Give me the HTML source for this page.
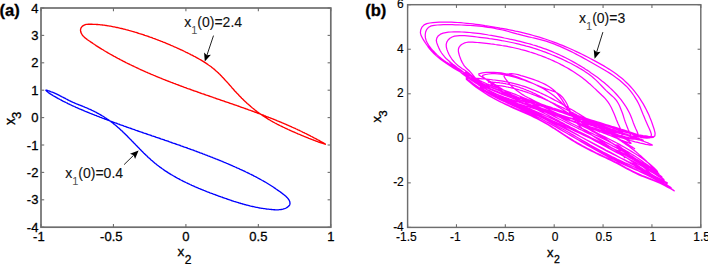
<!DOCTYPE html>
<html><head><meta charset="utf-8"><style>
html,body{margin:0;padding:0;background:#fff;}
svg{display:block;}
text{font-family:"Liberation Sans", sans-serif;fill:#000;stroke:#000;stroke-width:0.3px;}
</style></head><body>
<svg width="708" height="264" viewBox="0 0 708 264">
<rect width="708" height="264" fill="#fff"/>
<rect x="41.0" y="8.0" width="289.80" height="219.20" fill="none" stroke="#6e6e6e" stroke-width="1.7"/>
<line x1="41.00" y1="227.2" x2="41.00" y2="224.0" stroke="#6e6e6e" stroke-width="1.1"/>
<line x1="41.00" y1="8.0" x2="41.00" y2="11.2" stroke="#6e6e6e" stroke-width="1.1"/>
<line x1="113.45" y1="227.2" x2="113.45" y2="224.0" stroke="#6e6e6e" stroke-width="1.1"/>
<line x1="113.45" y1="8.0" x2="113.45" y2="11.2" stroke="#6e6e6e" stroke-width="1.1"/>
<line x1="185.90" y1="227.2" x2="185.90" y2="224.0" stroke="#6e6e6e" stroke-width="1.1"/>
<line x1="185.90" y1="8.0" x2="185.90" y2="11.2" stroke="#6e6e6e" stroke-width="1.1"/>
<line x1="258.35" y1="227.2" x2="258.35" y2="224.0" stroke="#6e6e6e" stroke-width="1.1"/>
<line x1="258.35" y1="8.0" x2="258.35" y2="11.2" stroke="#6e6e6e" stroke-width="1.1"/>
<line x1="330.80" y1="227.2" x2="330.80" y2="224.0" stroke="#6e6e6e" stroke-width="1.1"/>
<line x1="330.80" y1="8.0" x2="330.80" y2="11.2" stroke="#6e6e6e" stroke-width="1.1"/>
<line x1="41.0" y1="227.20" x2="44.2" y2="227.20" stroke="#6e6e6e" stroke-width="1.1"/>
<line x1="330.8" y1="227.20" x2="327.6" y2="227.20" stroke="#6e6e6e" stroke-width="1.1"/>
<line x1="41.0" y1="199.80" x2="44.2" y2="199.80" stroke="#6e6e6e" stroke-width="1.1"/>
<line x1="330.8" y1="199.80" x2="327.6" y2="199.80" stroke="#6e6e6e" stroke-width="1.1"/>
<line x1="41.0" y1="172.40" x2="44.2" y2="172.40" stroke="#6e6e6e" stroke-width="1.1"/>
<line x1="330.8" y1="172.40" x2="327.6" y2="172.40" stroke="#6e6e6e" stroke-width="1.1"/>
<line x1="41.0" y1="145.00" x2="44.2" y2="145.00" stroke="#6e6e6e" stroke-width="1.1"/>
<line x1="330.8" y1="145.00" x2="327.6" y2="145.00" stroke="#6e6e6e" stroke-width="1.1"/>
<line x1="41.0" y1="117.60" x2="44.2" y2="117.60" stroke="#6e6e6e" stroke-width="1.1"/>
<line x1="330.8" y1="117.60" x2="327.6" y2="117.60" stroke="#6e6e6e" stroke-width="1.1"/>
<line x1="41.0" y1="90.20" x2="44.2" y2="90.20" stroke="#6e6e6e" stroke-width="1.1"/>
<line x1="330.8" y1="90.20" x2="327.6" y2="90.20" stroke="#6e6e6e" stroke-width="1.1"/>
<line x1="41.0" y1="62.80" x2="44.2" y2="62.80" stroke="#6e6e6e" stroke-width="1.1"/>
<line x1="330.8" y1="62.80" x2="327.6" y2="62.80" stroke="#6e6e6e" stroke-width="1.1"/>
<line x1="41.0" y1="35.40" x2="44.2" y2="35.40" stroke="#6e6e6e" stroke-width="1.1"/>
<line x1="330.8" y1="35.40" x2="327.6" y2="35.40" stroke="#6e6e6e" stroke-width="1.1"/>
<line x1="41.0" y1="8.00" x2="44.2" y2="8.00" stroke="#6e6e6e" stroke-width="1.1"/>
<line x1="330.8" y1="8.00" x2="327.6" y2="8.00" stroke="#6e6e6e" stroke-width="1.1"/>
<text x="33.06" y="240.80" font-size="13">-1</text>
<text x="100.09" y="240.80" font-size="13">-0.5</text>
<text x="182.29" y="240.80" font-size="13">0</text>
<text x="249.32" y="240.80" font-size="13">0.5</text>
<text x="327.19" y="240.80" font-size="13">1</text>
<text x="38.40" y="231.85" font-size="13" text-anchor="end">-4</text>
<text x="38.40" y="204.45" font-size="13" text-anchor="end">-3</text>
<text x="38.40" y="177.05" font-size="13" text-anchor="end">-2</text>
<text x="38.40" y="149.65" font-size="13" text-anchor="end">-1</text>
<text x="38.40" y="122.25" font-size="13" text-anchor="end">0</text>
<text x="38.40" y="94.85" font-size="13" text-anchor="end">1</text>
<text x="38.40" y="67.45" font-size="13" text-anchor="end">2</text>
<text x="38.40" y="40.05" font-size="13" text-anchor="end">3</text>
<text x="38.40" y="12.65" font-size="13" text-anchor="end">4</text>
<rect x="407.6" y="4.7" width="293.20" height="222.70" fill="none" stroke="#6e6e6e" stroke-width="1.45"/>
<line x1="407.60" y1="227.4" x2="407.60" y2="224.20000000000002" stroke="#6e6e6e" stroke-width="1.1"/>
<line x1="407.60" y1="4.7" x2="407.60" y2="7.9" stroke="#6e6e6e" stroke-width="1.1"/>
<line x1="456.47" y1="227.4" x2="456.47" y2="224.20000000000002" stroke="#6e6e6e" stroke-width="1.1"/>
<line x1="456.47" y1="4.7" x2="456.47" y2="7.9" stroke="#6e6e6e" stroke-width="1.1"/>
<line x1="505.33" y1="227.4" x2="505.33" y2="224.20000000000002" stroke="#6e6e6e" stroke-width="1.1"/>
<line x1="505.33" y1="4.7" x2="505.33" y2="7.9" stroke="#6e6e6e" stroke-width="1.1"/>
<line x1="554.20" y1="227.4" x2="554.20" y2="224.20000000000002" stroke="#6e6e6e" stroke-width="1.1"/>
<line x1="554.20" y1="4.7" x2="554.20" y2="7.9" stroke="#6e6e6e" stroke-width="1.1"/>
<line x1="603.07" y1="227.4" x2="603.07" y2="224.20000000000002" stroke="#6e6e6e" stroke-width="1.1"/>
<line x1="603.07" y1="4.7" x2="603.07" y2="7.9" stroke="#6e6e6e" stroke-width="1.1"/>
<line x1="651.93" y1="227.4" x2="651.93" y2="224.20000000000002" stroke="#6e6e6e" stroke-width="1.1"/>
<line x1="651.93" y1="4.7" x2="651.93" y2="7.9" stroke="#6e6e6e" stroke-width="1.1"/>
<line x1="700.80" y1="227.4" x2="700.80" y2="224.20000000000002" stroke="#6e6e6e" stroke-width="1.1"/>
<line x1="700.80" y1="4.7" x2="700.80" y2="7.9" stroke="#6e6e6e" stroke-width="1.1"/>
<line x1="407.6" y1="227.40" x2="410.8" y2="227.40" stroke="#6e6e6e" stroke-width="1.1"/>
<line x1="700.8" y1="227.40" x2="697.5999999999999" y2="227.40" stroke="#6e6e6e" stroke-width="1.1"/>
<line x1="407.6" y1="182.86" x2="410.8" y2="182.86" stroke="#6e6e6e" stroke-width="1.1"/>
<line x1="700.8" y1="182.86" x2="697.5999999999999" y2="182.86" stroke="#6e6e6e" stroke-width="1.1"/>
<line x1="407.6" y1="138.32" x2="410.8" y2="138.32" stroke="#6e6e6e" stroke-width="1.1"/>
<line x1="700.8" y1="138.32" x2="697.5999999999999" y2="138.32" stroke="#6e6e6e" stroke-width="1.1"/>
<line x1="407.6" y1="93.78" x2="410.8" y2="93.78" stroke="#6e6e6e" stroke-width="1.1"/>
<line x1="700.8" y1="93.78" x2="697.5999999999999" y2="93.78" stroke="#6e6e6e" stroke-width="1.1"/>
<line x1="407.6" y1="49.24" x2="410.8" y2="49.24" stroke="#6e6e6e" stroke-width="1.1"/>
<line x1="700.8" y1="49.24" x2="697.5999999999999" y2="49.24" stroke="#6e6e6e" stroke-width="1.1"/>
<line x1="407.6" y1="4.70" x2="410.8" y2="4.70" stroke="#6e6e6e" stroke-width="1.1"/>
<line x1="700.8" y1="4.70" x2="697.5999999999999" y2="4.70" stroke="#6e6e6e" stroke-width="1.1"/>
<text x="396.06" y="241.10" font-size="12" style="stroke-width:0.15px">-1.5</text>
<text x="449.93" y="241.10" font-size="12" style="stroke-width:0.15px">-1</text>
<text x="493.80" y="241.10" font-size="12" style="stroke-width:0.15px">-0.5</text>
<text x="551.66" y="241.10" font-size="12" style="stroke-width:0.15px">0</text>
<text x="595.53" y="241.10" font-size="12" style="stroke-width:0.15px">0.5</text>
<text x="649.40" y="241.10" font-size="12" style="stroke-width:0.15px">1</text>
<text x="693.26" y="241.10" font-size="12" style="stroke-width:0.15px">1.5</text>
<text x="403.80" y="231.40" font-size="12" text-anchor="end" style="stroke-width:0.15px">-4</text>
<text x="403.80" y="186.26" font-size="12" text-anchor="end" style="stroke-width:0.15px">-2</text>
<text x="403.80" y="141.72" font-size="12" text-anchor="end" style="stroke-width:0.15px">0</text>
<text x="403.80" y="97.18" font-size="12" text-anchor="end" style="stroke-width:0.15px">2</text>
<text x="403.80" y="52.64" font-size="12" text-anchor="end" style="stroke-width:0.15px">4</text>
<text x="403.80" y="7.60" font-size="12" text-anchor="end" style="stroke-width:0.15px">6</text>
<text x="-0.5" y="15.7" font-size="16.6" font-weight="bold">(a)</text>
<text x="365.2" y="15.9" font-size="16.6" font-weight="bold">(b)</text>
<text x="177.6" y="256.2" font-size="13.5">x<tspan font-size="12" dx="0.3" dy="7.3">2</tspan></text>
<text x="547.0" y="256.6" font-size="13">x<tspan font-size="10.5" dx="0.5" dy="6.2">2</tspan></text>
<text transform="translate(14.8,125.0) rotate(-90)" font-size="14">x<tspan font-size="12.5" dx="-0.8" dy="6.5">3</tspan></text>
<text transform="translate(381.0,122.4) rotate(-90)" font-size="13">x<tspan font-size="11.5" dx="-0.9" dy="6.3">3</tspan></text>
<path d="M80.6,29.4 80.8,28.6 81.1,27.8 81.6,27.1 82.2,26.4 82.9,25.9 83.6,25.4 84.5,25.0 85.3,24.7 86.2,24.4 87.2,24.3 88.1,24.2 89.1,24.2 90.0,24.2 91.0,24.2 92.0,24.2 92.9,24.3 93.9,24.3 94.8,24.4 95.8,24.4 96.7,24.5 97.7,24.5 98.6,24.6 99.6,24.7 100.5,24.8 101.4,24.9 102.4,25.0 103.3,25.1 104.2,25.2 105.1,25.4 106.1,25.5 107.0,25.6 107.9,25.8 108.8,25.9 109.7,26.1 110.6,26.2 111.5,26.4 112.5,26.6 113.4,26.8 114.3,26.9 115.2,27.1 116.1,27.3 117.0,27.5 117.9,27.7 118.8,27.9 119.7,28.1 120.6,28.3 121.5,28.5 122.4,28.7 123.3,29.0 124.2,29.2 125.1,29.4 126.0,29.7 126.9,29.9 127.9,30.1 128.8,30.4 129.7,30.6 130.6,30.9 131.5,31.1 132.4,31.4 133.2,31.6 134.1,31.9 135.0,32.2 135.9,32.4 136.8,32.7 137.7,33.0 138.6,33.3 139.5,33.6 140.4,33.8 141.3,34.1 142.2,34.4 143.1,34.7 144.0,35.0 144.8,35.3 145.7,35.6 146.6,35.9 147.5,36.2 148.4,36.5 149.3,36.8 150.1,37.1 151.0,37.4 151.9,37.7 152.8,38.1 153.6,38.4 154.5,38.7 155.4,39.0 156.3,39.4 157.1,39.7 158.0,40.0 158.9,40.4 159.7,40.7 160.6,41.0 161.5,41.4 162.4,41.7 163.2,42.1 164.1,42.4 164.9,42.7 165.8,43.1 166.7,43.5 167.5,43.8 168.4,44.2 169.2,44.5 170.1,44.9 171.0,45.3 171.8,45.6 172.7,46.0 173.5,46.4 174.4,46.8 175.2,47.1 176.1,47.5 176.9,47.9 177.8,48.3 178.6,48.7 179.5,49.1 180.3,49.5 181.2,49.8 182.0,50.2 182.9,50.6 183.7,51.0 184.5,51.5 185.4,51.9 186.2,52.3 187.1,52.7 187.9,53.1 188.7,53.5 189.6,53.9 190.4,54.4 191.2,54.8 192.1,55.2 192.9,55.6 193.7,56.1 194.6,56.5 195.4,56.9 196.2,57.4 197.0,57.8 197.9,58.3 198.7,58.8 199.5,59.2 200.3,59.7 201.1,60.1 201.9,60.6 202.7,61.1 203.5,61.6 204.3,62.1 205.1,62.6 205.9,63.1 206.6,63.6 207.4,64.1 208.2,64.7 208.9,65.2 209.7,65.7 210.4,66.3 211.2,66.8 211.9,67.4 212.6,68.0 213.3,68.6 214.1,69.1 214.8,69.7 215.5,70.4 216.1,71.0 216.8,71.6 217.5,72.2 218.2,72.8 218.8,73.5 219.5,74.1 220.2,74.8 220.8,75.4 221.5,76.1 222.1,76.8 222.7,77.4 223.4,78.1 224.0,78.8 224.6,79.5 225.3,80.2 225.9,80.9 226.5,81.6 227.2,82.2 227.8,82.9 228.4,83.6 229.0,84.3 229.6,85.0 230.3,85.7 230.9,86.4 231.5,87.1 232.1,87.9 232.8,88.6 233.4,89.3 234.0,90.0 234.6,90.7 235.3,91.4 235.9,92.0 236.5,92.7 237.2,93.4 237.8,94.1 238.5,94.8 239.1,95.5 239.8,96.2 240.4,96.8 241.1,97.5 241.7,98.2 242.4,98.8 243.1,99.5 243.8,100.2 244.4,100.8 245.1,101.4 245.8,102.1 246.5,102.7 247.2,103.4 247.9,104.0 248.6,104.6 249.3,105.2 250.0,105.8 250.7,106.5 251.4,107.1 252.1,107.7 252.9,108.3 253.6,108.8 254.3,109.4 255.0,110.0 255.8,110.6 256.5,111.1 257.2,111.7 258.0,112.2 258.7,112.8 259.5,113.3 260.2,113.9 261.0,114.4 261.7,114.9 262.5,115.4 263.2,116.0 264.0,116.5 264.8,117.0 265.5,117.5 266.3,117.9 267.1,118.4 267.8,118.9 268.6,119.4 269.4,119.8 270.2,120.3 271.0,120.8 271.8,121.2 272.6,121.7 273.3,122.1 274.1,122.5 274.9,123.0 275.8,123.4 276.6,123.8 277.4,124.3 278.2,124.7 279.0,125.1 279.8,125.5 280.7,125.9 281.5,126.3 282.3,126.7 283.1,127.1 284.0,127.5 284.8,127.9 285.7,128.3 286.5,128.7 287.4,129.1 288.2,129.5 289.1,129.9 290.0,130.3 290.8,130.7 291.7,131.1 292.6,131.5 293.4,131.8 294.3,132.2 295.2,132.6 296.1,133.0 297.0,133.4 297.9,133.8 298.8,134.1 299.7,134.5 300.6,134.9 301.5,135.3 302.4,135.7 303.3,136.0 304.2,136.4 305.2,136.8 306.1,137.2 307.0,137.5 307.9,137.9 308.8,138.3 309.7,138.6 310.6,139.0 311.5,139.3 312.4,139.7 313.3,140.0 314.2,140.3 315.1,140.7 315.9,141.0 316.8,141.3 317.7,141.7 318.5,142.0 319.4,142.3 320.2,142.6 321.0,142.9 321.9,143.2 322.7,143.4 323.5,143.7 324.2,143.9 324.8,144.1 325.2,144.2 325.4,144.2 325.3,144.1 325.0,143.8 324.5,143.5 323.8,143.1 323.1,142.7 322.3,142.2 321.5,141.8 320.6,141.3 319.8,140.9 319.0,140.4 318.2,140.0 317.4,139.6 316.5,139.1 315.7,138.7 314.9,138.2 314.0,137.8 313.2,137.4 312.4,136.9 311.5,136.5 310.7,136.1 309.9,135.6 309.0,135.2 308.2,134.8 307.4,134.4 306.5,133.9 305.7,133.5 304.8,133.1 304.0,132.7 303.1,132.3 302.3,131.9 301.4,131.5 300.6,131.0 299.7,130.6 298.9,130.2 298.0,129.8 297.2,129.4 296.3,129.0 295.5,128.6 294.6,128.2 293.7,127.9 292.9,127.5 292.0,127.1 291.2,126.7 290.3,126.3 289.4,125.9 288.6,125.5 287.7,125.2 286.9,124.8 286.0,124.4 285.1,124.0 284.3,123.7 283.4,123.3 282.5,122.9 281.7,122.6 280.8,122.2 279.9,121.8 279.1,121.5 278.2,121.1 277.3,120.8 276.5,120.4 275.6,120.0 274.7,119.7 273.9,119.3 273.0,119.0 272.1,118.6 271.3,118.3 270.4,118.0 269.5,117.6 268.7,117.3 267.8,116.9 266.9,116.6 266.1,116.3 265.2,115.9 264.3,115.6 263.4,115.2 262.6,114.9 261.7,114.6 260.8,114.3 260.0,113.9 259.1,113.6 258.2,113.3 257.3,113.0 256.5,112.6 255.6,112.3 254.7,112.0 253.9,111.7 253.0,111.3 252.1,111.0 251.2,110.7 250.4,110.4 249.5,110.1 248.6,109.8 247.7,109.4 246.9,109.1 246.0,108.8 245.1,108.5 244.2,108.2 243.4,107.9 242.5,107.6 241.6,107.3 240.7,107.0 239.9,106.7 239.0,106.3 238.1,106.0 237.2,105.7 236.4,105.4 235.5,105.1 234.6,104.8 233.7,104.5 232.8,104.2 232.0,103.9 231.1,103.6 230.2,103.3 229.3,103.0 228.5,102.7 227.6,102.4 226.7,102.1 225.8,101.8 224.9,101.5 224.1,101.2 223.2,100.9 222.3,100.6 221.4,100.3 220.5,100.0 219.7,99.7 218.8,99.4 217.9,99.1 217.0,98.8 216.1,98.5 215.3,98.2 214.4,97.9 213.5,97.6 212.6,97.2 211.7,96.9 210.9,96.6 210.0,96.3 209.1,96.0 208.2,95.7 207.3,95.4 206.4,95.1 205.6,94.8 204.7,94.5 203.8,94.2 202.9,93.9 202.0,93.6 201.2,93.3 200.3,93.0 199.4,92.7 198.5,92.3 197.6,92.0 196.8,91.7 195.9,91.4 195.0,91.1 194.1,90.8 193.2,90.5 192.3,90.2 191.5,89.8 190.6,89.5 189.7,89.2 188.8,88.9 187.9,88.6 187.1,88.3 186.2,87.9 185.3,87.6 184.4,87.3 183.6,87.0 182.7,86.6 181.8,86.3 180.9,86.0 180.0,85.7 179.2,85.3 178.3,85.0 177.4,84.7 176.5,84.4 175.7,84.0 174.8,83.7 173.9,83.4 173.0,83.0 172.2,82.7 171.3,82.4 170.4,82.0 169.5,81.7 168.7,81.3 167.8,81.0 166.9,80.7 166.0,80.3 165.2,80.0 164.3,79.6 163.4,79.3 162.6,78.9 161.7,78.6 160.8,78.2 160.0,77.9 159.1,77.5 158.2,77.2 157.4,76.8 156.5,76.5 155.6,76.1 154.8,75.7 153.9,75.4 153.1,75.0 152.2,74.6 151.3,74.3 150.5,73.9 149.6,73.5 148.8,73.2 147.9,72.8 147.1,72.4 146.2,72.1 145.3,71.7 144.5,71.3 143.6,70.9 142.8,70.5 141.9,70.2 141.1,69.8 140.2,69.4 139.4,69.0 138.5,68.6 137.7,68.2 136.9,67.8 136.0,67.4 135.2,67.0 134.3,66.6 133.5,66.2 132.7,65.8 131.8,65.4 131.0,65.0 130.1,64.6 129.3,64.2 128.5,63.8 127.6,63.4 126.8,63.0 126.0,62.6 125.1,62.1 124.3,61.7 123.5,61.3 122.7,60.9 121.8,60.4 121.0,60.0 120.2,59.6 119.4,59.1 118.6,58.7 117.7,58.3 116.9,57.8 116.1,57.4 115.3,56.9 114.5,56.5 113.7,56.1 112.9,55.6 112.1,55.2 111.2,54.7 110.4,54.2 109.6,53.8 108.8,53.3 108.0,52.9 107.2,52.4 106.4,51.9 105.6,51.5 104.8,51.0 104.0,50.5 103.3,50.0 102.5,49.5 101.7,49.1 100.9,48.6 100.1,48.1 99.3,47.6 98.5,47.1 97.7,46.6 96.9,46.1 96.1,45.6 95.3,45.0 94.5,44.5 93.8,44.0 93.0,43.5 92.2,42.9 91.4,42.4 90.6,41.9 89.8,41.3 89.0,40.8 88.2,40.2 87.4,39.7 86.7,39.1 85.9,38.5 85.1,37.9 84.4,37.3 83.8,36.6 83.1,36.0 82.5,35.3 82.0,34.5 81.5,33.7 81.2,32.9 80.8,32.1 80.6,31.2 80.5,30.3 80.6,29.4Z" fill="none" stroke="#ff0000" stroke-width="1.35" stroke-linejoin="round"/>
<path d="M45.9,90.3 45.9,90.1 46.2,90.1 46.6,90.1 47.3,90.3 48.1,90.6 49.0,90.9 50.1,91.3 51.2,91.8 52.3,92.2 53.5,92.7 54.6,93.2 55.7,93.7 56.8,94.2 57.8,94.7 58.8,95.2 59.8,95.7 60.7,96.1 61.5,96.6 62.4,97.0 63.2,97.4 64.0,97.8 64.8,98.2 65.6,98.6 66.3,99.0 67.1,99.4 67.8,99.8 68.5,100.2 69.3,100.6 70.0,100.9 70.8,101.3 71.5,101.7 72.3,102.0 73.1,102.4 73.9,102.7 74.7,103.1 75.6,103.4 76.4,103.8 77.3,104.1 78.1,104.5 79.0,104.8 79.9,105.1 80.8,105.5 81.6,105.8 82.5,106.2 83.4,106.6 84.3,106.9 85.2,107.3 86.0,107.6 86.9,108.0 87.8,108.4 88.6,108.8 89.5,109.2 90.4,109.5 91.2,109.9 92.0,110.3 92.9,110.7 93.7,111.2 94.6,111.6 95.4,112.0 96.2,112.4 97.0,112.9 97.8,113.3 98.6,113.7 99.4,114.2 100.2,114.6 101.0,115.1 101.8,115.6 102.6,116.0 103.4,116.5 104.2,117.0 104.9,117.5 105.7,118.0 106.5,118.5 107.2,119.0 108.0,119.5 108.7,120.0 109.5,120.6 110.2,121.1 110.9,121.7 111.7,122.2 112.4,122.8 113.1,123.3 113.8,123.9 114.5,124.5 115.2,125.0 115.9,125.6 116.6,126.2 117.3,126.8 118.0,127.4 118.7,128.0 119.4,128.6 120.1,129.3 120.8,129.9 121.4,130.5 122.1,131.1 122.8,131.8 123.4,132.4 124.1,133.0 124.8,133.7 125.4,134.3 126.1,135.0 126.7,135.6 127.4,136.3 128.0,136.9 128.7,137.6 129.3,138.3 130.0,138.9 130.6,139.6 131.3,140.2 131.9,140.9 132.6,141.6 133.2,142.2 133.9,142.9 134.5,143.6 135.2,144.2 135.8,144.9 136.5,145.6 137.1,146.2 137.8,146.9 138.4,147.6 139.1,148.2 139.7,148.9 140.4,149.6 141.0,150.2 141.7,150.9 142.3,151.6 143.0,152.2 143.6,152.9 144.3,153.5 145.0,154.2 145.6,154.8 146.3,155.5 147.0,156.1 147.6,156.7 148.3,157.4 149.0,158.0 149.7,158.6 150.4,159.2 151.1,159.9 151.8,160.5 152.5,161.1 153.2,161.7 153.9,162.3 154.6,162.9 155.3,163.5 156.0,164.0 156.7,164.6 157.5,165.2 158.2,165.7 158.9,166.3 159.7,166.9 160.4,167.4 161.2,167.9 161.9,168.5 162.7,169.0 163.4,169.5 164.2,170.1 164.9,170.6 165.7,171.1 166.5,171.6 167.3,172.1 168.0,172.6 168.8,173.1 169.6,173.6 170.4,174.1 171.2,174.6 172.0,175.0 172.8,175.5 173.6,176.0 174.4,176.4 175.2,176.9 176.0,177.4 176.8,177.8 177.6,178.3 178.5,178.7 179.3,179.1 180.1,179.6 180.9,180.0 181.8,180.4 182.6,180.9 183.4,181.3 184.2,181.7 185.1,182.1 185.9,182.5 186.8,182.9 187.6,183.3 188.4,183.7 189.3,184.1 190.1,184.5 191.0,184.9 191.8,185.3 192.7,185.7 193.5,186.0 194.4,186.4 195.2,186.8 196.1,187.2 196.9,187.5 197.8,187.9 198.7,188.3 199.5,188.6 200.4,189.0 201.2,189.3 202.1,189.7 203.0,190.0 203.8,190.4 204.7,190.7 205.6,191.1 206.4,191.4 207.3,191.8 208.2,192.1 209.0,192.4 209.9,192.8 210.8,193.1 211.6,193.4 212.5,193.7 213.3,194.1 214.2,194.4 215.1,194.7 215.9,195.0 216.8,195.3 217.7,195.7 218.5,196.0 219.4,196.3 220.3,196.6 221.1,196.9 222.0,197.2 222.8,197.5 223.7,197.8 224.6,198.1 225.4,198.4 226.3,198.7 227.1,199.0 228.0,199.3 228.9,199.6 229.7,199.9 230.6,200.2 231.4,200.5 232.3,200.8 233.2,201.1 234.0,201.4 234.9,201.6 235.8,201.9 236.6,202.2 237.5,202.4 238.4,202.7 239.2,203.0 240.1,203.2 241.0,203.5 241.9,203.7 242.7,204.0 243.6,204.2 244.5,204.5 245.4,204.7 246.3,205.0 247.2,205.2 248.1,205.4 249.0,205.6 249.9,205.9 250.8,206.1 251.7,206.3 252.6,206.5 253.5,206.7 254.4,206.9 255.3,207.1 256.2,207.3 257.2,207.4 258.1,207.6 259.0,207.8 260.0,208.0 260.9,208.1 261.8,208.3 262.8,208.4 263.7,208.6 264.7,208.7 265.7,208.8 266.6,209.0 267.6,209.1 268.6,209.2 269.6,209.3 270.5,209.4 271.5,209.5 272.5,209.6 273.5,209.7 274.5,209.7 275.5,209.8 276.4,209.8 277.4,209.8 278.4,209.8 279.3,209.7 280.2,209.6 281.1,209.5 282.0,209.4 282.9,209.2 283.7,208.9 284.5,208.7 285.3,208.4 286.1,208.0 286.8,207.6 287.5,207.2 288.2,206.6 288.8,206.1 289.3,205.5 289.7,204.8 289.9,204.1 290.0,203.3 289.9,202.6 289.8,201.8 289.5,201.0 289.1,200.2 288.7,199.5 288.2,198.8 287.6,198.1 287.0,197.4 286.3,196.7 285.6,196.1 284.8,195.4 284.0,194.8 283.3,194.2 282.5,193.6 281.7,193.0 280.9,192.4 280.1,191.8 279.3,191.2 278.4,190.6 277.6,190.1 276.8,189.5 276.0,189.0 275.2,188.4 274.4,187.9 273.6,187.3 272.8,186.8 272.0,186.3 271.2,185.8 270.4,185.3 269.6,184.8 268.8,184.3 268.0,183.8 267.2,183.3 266.4,182.8 265.6,182.3 264.8,181.8 264.0,181.4 263.2,180.9 262.4,180.5 261.5,180.0 260.7,179.5 259.9,179.1 259.1,178.7 258.3,178.2 257.5,177.8 256.7,177.3 255.9,176.9 255.1,176.5 254.2,176.1 253.4,175.6 252.6,175.2 251.8,174.8 251.0,174.4 250.1,174.0 249.3,173.6 248.5,173.2 247.7,172.8 246.9,172.4 246.0,172.0 245.2,171.6 244.4,171.2 243.6,170.8 242.7,170.4 241.9,170.0 241.1,169.7 240.2,169.3 239.4,168.9 238.6,168.5 237.7,168.1 236.9,167.8 236.1,167.4 235.2,167.0 234.4,166.6 233.6,166.3 232.7,165.9 231.9,165.5 231.0,165.2 230.2,164.8 229.3,164.4 228.5,164.1 227.7,163.7 226.8,163.4 226.0,163.0 225.1,162.6 224.3,162.3 223.4,161.9 222.6,161.6 221.7,161.2 220.9,160.9 220.0,160.5 219.2,160.2 218.3,159.8 217.5,159.5 216.6,159.1 215.7,158.8 214.9,158.5 214.0,158.1 213.2,157.8 212.3,157.4 211.5,157.1 210.6,156.8 209.7,156.4 208.9,156.1 208.0,155.8 207.1,155.4 206.3,155.1 205.4,154.8 204.6,154.4 203.7,154.1 202.8,153.8 202.0,153.4 201.1,153.1 200.2,152.8 199.4,152.5 198.5,152.2 197.6,151.8 196.7,151.5 195.9,151.2 195.0,150.9 194.1,150.5 193.3,150.2 192.4,149.9 191.5,149.6 190.7,149.3 189.8,149.0 188.9,148.6 188.0,148.3 187.2,148.0 186.3,147.7 185.4,147.4 184.5,147.1 183.7,146.8 182.8,146.5 181.9,146.1 181.0,145.8 180.2,145.5 179.3,145.2 178.4,144.9 177.5,144.6 176.7,144.3 175.8,144.0 174.9,143.7 174.0,143.4 173.1,143.1 172.3,142.8 171.4,142.5 170.5,142.2 169.6,141.9 168.8,141.5 167.9,141.2 167.0,140.9 166.1,140.6 165.2,140.3 164.4,140.0 163.5,139.7 162.6,139.4 161.7,139.1 160.8,138.8 160.0,138.5 159.1,138.2 158.2,137.9 157.3,137.6 156.4,137.3 155.6,137.0 154.7,136.7 153.8,136.4 152.9,136.1 152.0,135.8 151.2,135.5 150.3,135.2 149.4,134.9 148.5,134.6 147.7,134.3 146.8,134.0 145.9,133.7 145.0,133.4 144.1,133.1 143.3,132.8 142.4,132.5 141.5,132.2 140.6,131.9 139.8,131.6 138.9,131.3 138.0,131.0 137.1,130.7 136.2,130.4 135.4,130.1 134.5,129.7 133.6,129.4 132.7,129.1 131.9,128.8 131.0,128.5 130.1,128.2 129.2,127.9 128.4,127.6 127.5,127.3 126.6,127.0 125.8,126.7 124.9,126.4 124.0,126.1 123.1,125.7 122.3,125.4 121.4,125.1 120.5,124.8 119.7,124.5 118.8,124.2 117.9,123.9 117.1,123.5 116.2,123.2 115.3,122.9 114.5,122.6 113.6,122.3 112.7,122.0 111.9,121.6 111.0,121.3 110.1,121.0 109.3,120.7 108.4,120.4 107.5,120.0 106.7,119.7 105.8,119.4 104.9,119.1 104.1,118.7 103.2,118.4 102.4,118.1 101.5,117.7 100.6,117.4 99.8,117.1 98.9,116.7 98.1,116.4 97.2,116.1 96.4,115.7 95.5,115.4 94.6,115.1 93.8,114.7 92.9,114.4 92.1,114.0 91.2,113.7 90.4,113.4 89.5,113.0 88.7,112.7 87.8,112.3 87.0,112.0 86.1,111.6 85.3,111.3 84.4,110.9 83.6,110.6 82.8,110.2 81.9,109.8 81.1,109.5 80.2,109.1 79.4,108.8 78.5,108.4 77.7,108.0 76.9,107.7 76.0,107.3 75.2,106.9 74.3,106.5 73.5,106.1 72.7,105.8 71.8,105.4 71.0,105.0 70.1,104.6 69.3,104.2 68.4,103.8 67.6,103.4 66.8,102.9 65.9,102.5 65.1,102.1 64.2,101.7 63.4,101.3 62.5,100.8 61.7,100.4 60.8,99.9 60.0,99.5 59.2,99.0 58.3,98.6 57.5,98.1 56.6,97.6 55.8,97.1 54.9,96.6 54.0,96.2 53.2,95.7 52.4,95.1 51.5,94.6 50.7,94.1 49.9,93.6 49.2,93.1 48.4,92.6 47.7,92.0 47.1,91.5 46.5,91.0 46.1,90.6 45.9,90.3Z" fill="none" stroke="#0000ff" stroke-width="1.35" stroke-linejoin="round"/>
<text x="184.2" y="27.0" font-size="14" style="fill:#111;stroke:#111;stroke-width:0.1px">x<tspan font-size="11" dy="6.8" style="fill:#555;stroke:none">1</tspan><tspan dy="-6.8">(0)=2.4</tspan></text>
<line x1="213.5" y1="35.6" x2="206.96" y2="55.15" stroke="#222" stroke-width="1"/>
<path d="M204.8,61.6 L204.08,52.40 L206.96,55.15 L210.91,54.68Z" fill="#000"/>
<text x="65.2" y="177.9" font-size="14" style="fill:#111;stroke:#111;stroke-width:0.1px">x<tspan font-size="11" dy="6.8" style="fill:#555;stroke:none">1</tspan><tspan dy="-6.8">(0)=0.4</tspan></text>
<line x1="124.1" y1="164.6" x2="133.74" y2="155.16" stroke="#222" stroke-width="1"/>
<path d="M138.6,150.4 L135.05,158.92 L133.74,155.16 L130.01,153.78Z" fill="#000"/>
<text x="579.0" y="23.4" font-size="14" style="fill:#111;stroke:#111;stroke-width:0.1px">x<tspan font-size="11" dy="6.8" style="fill:#555;stroke:none">1</tspan><tspan dy="-6.8">(0)=3</tspan></text>
<line x1="602.9" y1="32.1" x2="596.63" y2="52.21" stroke="#222" stroke-width="1"/>
<path d="M594.6,58.7 L593.70,49.51 L596.63,52.21 L600.57,51.66Z" fill="#000"/>
<path d="M420.4,32.9 420.7,29.9 422.0,27.1 424.1,24.9 426.8,23.6 429.8,23.0 432.9,22.6 436.0,22.3 439.1,22.1 442.2,22.0 445.3,22.0 448.4,22.1 451.4,22.2 454.5,22.3 457.6,22.5 460.7,22.7 463.7,23.0 466.8,23.3 469.8,23.6 472.9,23.9 475.9,24.3 479.0,24.7 482.0,25.1 485.0,25.6 488.1,26.0 491.1,26.5 494.1,27.0 497.2,27.5 500.2,28.1 503.2,28.6 506.3,29.2 509.3,29.8 512.3,30.4 515.4,31.1 518.4,31.7 521.4,32.4 524.4,33.1 527.4,33.9 530.4,34.7 533.3,35.5 536.3,36.3 539.3,37.2 542.2,38.1 545.1,39.0 548.0,40.0 550.9,41.0 553.8,42.1 556.7,43.2 559.5,44.3 562.4,45.4 565.2,46.6 568.0,47.8 570.8,49.0 573.6,50.3 576.4,51.6 579.2,52.9 582.0,54.3 584.7,55.6 587.5,57.0 590.2,58.5 592.9,59.9 595.7,61.4 598.4,62.9 601.1,64.4 603.8,65.9 606.4,67.5 609.0,69.1 611.6,70.8 614.2,72.6 616.7,74.3 619.1,76.2 621.5,78.1 623.9,80.1 626.1,82.2 628.3,84.3 630.4,86.5 632.5,88.8 634.4,91.2 636.3,93.6 638.2,96.1 639.9,98.7 641.6,101.3 643.2,103.9 644.7,106.6 646.1,109.3 647.5,112.1 648.8,114.8 649.9,117.6 651.1,120.4 652.1,123.3 653.2,126.5 654.3,129.8 655.1,133.1 654.9,135.8 653.3,137.3 650.5,137.7 647.3,137.4 644.3,136.8 641.3,135.9 638.3,134.8 635.3,133.8 632.3,132.8 629.4,131.8 626.4,130.8 623.5,129.9 620.5,129.0 617.6,128.0 614.6,127.1 611.7,126.3 608.8,125.4 605.8,124.5 602.9,123.6 600.0,122.7 597.1,121.8 594.1,120.9 591.2,120.0 588.3,119.1 585.3,118.2 582.4,117.3 579.4,116.4 576.5,115.5 573.6,114.6 570.6,113.7 567.7,112.8 564.7,111.9 561.8,111.0 558.8,110.1 555.9,109.2 552.9,108.3 550.0,107.4 547.0,106.5 544.1,105.6 541.1,104.7 538.2,103.9 535.2,103.0 532.3,102.1 529.3,101.3 526.3,100.4 523.4,99.5 520.4,98.7 517.4,97.9 514.5,97.0 511.5,96.2 508.6,95.3 505.6,94.4 502.7,93.5 499.8,92.5 496.9,91.4 494.1,90.3 491.3,89.1 488.5,87.8 485.7,86.4 483.0,84.9 480.3,83.4 477.6,81.9 474.9,80.4 472.3,78.9 469.6,77.3 466.9,75.8 464.3,74.3 461.6,72.8 459.0,71.2 456.3,69.6 453.7,68.1 451.0,66.4 448.4,64.8 445.8,63.1 443.3,61.3 440.8,59.5 438.4,57.6 436.1,55.6 433.9,53.5 431.8,51.3 429.8,49.0 427.9,46.5 426.1,44.0 424.4,41.4 422.7,38.6 421.2,35.8 420.4,32.9Z M425.2,35.0 425.6,32.0 426.8,29.3 428.7,27.2 431.2,25.9 434.2,25.3 437.3,25.0 440.4,24.8 443.4,24.6 446.4,24.6 449.3,24.6 452.3,24.7 455.3,24.8 458.2,24.9 461.2,25.0 464.2,25.1 467.2,25.3 470.2,25.5 473.1,25.7 476.1,25.9 479.1,26.2 482.1,26.5 485.0,26.9 488.0,27.3 491.0,27.7 493.9,28.2 496.8,28.8 499.7,29.4 502.6,30.0 505.5,30.7 508.4,31.5 511.3,32.3 514.1,33.1 517.0,33.9 519.9,34.6 522.8,35.4 525.7,36.1 528.6,36.8 531.6,37.5 534.5,38.1 537.4,38.8 540.3,39.6 543.2,40.4 546.1,41.2 548.9,42.2 551.7,43.2 554.5,44.2 557.3,45.3 560.0,46.4 562.7,47.6 565.4,48.9 568.1,50.1 570.8,51.4 573.5,52.8 576.1,54.1 578.7,55.5 581.4,56.9 584.0,58.4 586.6,59.8 589.2,61.3 591.9,62.8 594.5,64.2 597.1,65.7 599.7,67.2 602.3,68.7 604.9,70.2 607.4,71.8 610.0,73.4 612.5,75.0 614.9,76.7 617.3,78.4 619.7,80.3 621.9,82.2 624.1,84.2 626.3,86.2 628.3,88.4 630.2,90.7 632.1,93.1 633.8,95.5 635.4,98.1 637.0,100.6 638.4,103.3 639.7,106.0 640.8,108.7 641.9,111.4 643.0,114.2 644.1,116.8 645.2,119.6 646.4,122.3 647.7,125.2 649.2,128.4 650.5,131.5 651.4,134.4 651.1,136.7 649.5,137.9 646.8,138.1 643.9,137.9 640.9,137.3 638.0,136.3 635.1,135.3 632.1,134.2 629.2,133.1 626.3,132.0 623.4,131.0 620.6,130.1 617.7,129.1 614.9,128.2 612.0,127.4 609.2,126.5 606.4,125.7 603.5,124.8 600.7,124.0 597.9,123.2 595.0,122.3 592.2,121.5 589.3,120.6 586.5,119.8 583.6,118.9 580.8,118.0 578.0,117.2 575.1,116.3 572.2,115.5 569.4,114.6 566.5,113.7 563.7,112.9 560.8,112.0 557.9,111.1 555.1,110.3 552.2,109.4 549.3,108.5 546.5,107.7 543.6,106.8 540.7,106.0 537.9,105.1 535.0,104.3 532.1,103.4 529.2,102.6 526.4,101.7 523.5,100.9 520.6,100.1 517.7,99.2 514.8,98.4 512.0,97.6 509.1,96.7 506.3,95.8 503.5,94.8 500.7,93.8 498.0,92.6 495.3,91.4 492.7,90.1 490.1,88.6 487.6,87.1 485.1,85.4 482.6,83.7 480.2,81.9 477.7,80.3 475.1,78.7 472.5,77.1 469.9,75.6 467.3,74.2 464.7,72.8 462.0,71.4 459.4,69.9 456.8,68.5 454.2,67.1 451.7,65.6 449.2,64.0 446.7,62.4 444.3,60.7 441.9,58.9 439.6,57.1 437.4,55.1 435.2,53.0 433.1,50.8 431.0,48.5 429.1,46.0 427.5,43.4 426.2,40.7 425.4,37.9 425.2,35.0Z M436.3,40.3 436.9,37.8 438.4,35.7 440.5,34.2 443.1,33.2 445.7,32.6 448.3,32.2 451.0,32.0 453.8,31.9 456.5,31.9 459.2,31.9 461.9,32.0 464.6,32.1 467.3,32.3 469.9,32.5 472.6,32.8 475.3,33.1 477.9,33.4 480.6,33.7 483.2,34.1 485.9,34.5 488.5,35.0 491.2,35.4 493.8,35.9 496.5,36.4 499.1,36.9 501.7,37.4 504.4,38.0 507.0,38.5 509.6,39.1 512.3,39.6 514.9,40.2 517.5,40.8 520.1,41.4 522.7,42.1 525.4,42.8 528.0,43.5 530.5,44.2 533.1,45.0 535.7,45.7 538.3,46.6 540.8,47.4 543.3,48.3 545.9,49.2 548.4,50.2 550.9,51.2 553.4,52.2 555.9,53.3 558.3,54.3 560.8,55.5 563.2,56.6 565.6,57.8 568.0,59.0 570.4,60.3 572.8,61.6 575.1,62.9 577.5,64.2 579.8,65.6 582.1,67.0 584.4,68.4 586.6,69.9 588.9,71.3 591.1,72.9 593.3,74.4 595.5,76.0 597.7,77.6 599.8,79.2 601.9,80.9 604.0,82.5 606.0,84.3 608.0,86.0 610.0,87.9 612.0,89.7 613.9,91.6 615.7,93.5 617.5,95.5 619.3,97.6 621.0,99.7 622.6,101.9 624.2,104.1 625.7,106.3 627.1,108.6 628.4,111.0 629.6,113.3 630.7,115.7 631.6,118.0 632.5,120.4 633.4,123.0 634.5,125.7 635.8,128.7 637.2,131.7 638.2,134.6 638.5,136.9 637.6,138.5 635.5,139.1 632.6,139.1 629.7,138.8 626.9,138.3 624.3,137.7 621.7,137.0 619.1,136.3 616.6,135.5 614.0,134.7 611.5,133.9 608.9,133.1 606.4,132.3 603.8,131.5 601.2,130.7 598.7,129.9 596.1,129.0 593.5,128.2 591.0,127.3 588.4,126.5 585.9,125.6 583.4,124.8 580.8,123.9 578.3,123.0 575.7,122.1 573.2,121.2 570.7,120.3 568.1,119.4 565.6,118.5 563.1,117.6 560.5,116.7 558.0,115.8 555.5,114.9 553.0,114.0 550.4,113.1 547.9,112.2 545.4,111.3 542.8,110.4 540.3,109.5 537.7,108.6 535.2,107.7 532.7,106.9 530.1,106.0 527.6,105.1 525.0,104.2 522.5,103.4 519.9,102.5 517.4,101.7 514.8,100.8 512.2,99.9 509.7,99.1 507.1,98.2 504.6,97.3 502.1,96.3 499.6,95.3 497.1,94.3 494.7,93.3 492.3,92.1 489.9,90.9 487.5,89.7 485.2,88.4 482.9,87.0 480.7,85.5 478.5,84.0 476.3,82.4 474.1,80.8 472.0,79.1 469.9,77.4 467.8,75.7 465.6,74.0 463.5,72.3 461.4,70.6 459.3,69.0 457.1,67.4 455.0,65.8 452.8,64.2 450.7,62.5 448.7,60.8 446.7,59.1 444.9,57.2 443.2,55.2 441.6,53.0 440.2,50.7 438.9,48.1 437.8,45.5 436.8,42.9 436.3,40.3Z M446.2,44.4 446.8,42.1 448.1,40.0 449.9,38.3 452.1,37.0 454.5,36.2 457.1,35.8 459.6,35.6 462.1,35.6 464.6,35.7 467.1,35.9 469.6,36.1 472.1,36.4 474.5,36.7 477.0,37.0 479.5,37.3 482.0,37.6 484.5,37.9 486.9,38.2 489.4,38.6 491.9,38.9 494.4,39.3 496.9,39.7 499.3,40.1 501.8,40.6 504.3,41.0 506.8,41.5 509.2,42.0 511.7,42.5 514.1,43.0 516.6,43.6 519.0,44.2 521.4,44.8 523.9,45.4 526.3,46.1 528.7,46.7 531.1,47.4 533.5,48.2 535.9,48.9 538.2,49.7 540.6,50.5 543.0,51.4 545.3,52.2 547.6,53.1 550.0,54.0 552.3,55.0 554.6,55.9 556.9,56.9 559.2,57.9 561.5,58.9 563.8,60.0 566.1,61.1 568.3,62.2 570.6,63.3 572.8,64.5 575.1,65.7 577.3,66.9 579.5,68.2 581.6,69.4 583.8,70.8 585.9,72.2 587.9,73.6 589.9,75.1 591.9,76.6 593.8,78.2 595.7,79.9 597.5,81.6 599.2,83.4 601.0,85.2 602.7,87.0 604.4,88.8 606.2,90.6 608.0,92.3 609.9,94.0 611.8,95.7 613.7,97.4 615.4,99.2 616.9,101.1 618.2,103.3 619.4,105.5 620.4,107.9 621.3,110.2 622.2,112.5 623.0,114.8 623.7,117.1 624.4,119.4 625.2,121.7 626.1,124.1 627.1,126.7 628.2,129.5 629.5,132.3 630.4,135.0 630.7,137.2 630.2,138.6 628.5,139.1 626.1,138.8 623.6,138.2 621.1,137.5 618.6,136.7 616.2,135.8 613.8,134.8 611.5,133.9 609.1,133.0 606.7,132.2 604.3,131.4 601.9,130.6 599.5,129.8 597.2,129.0 594.8,128.2 592.4,127.5 590.0,126.8 587.6,126.0 585.2,125.3 582.9,124.6 580.5,123.9 578.1,123.1 575.7,122.4 573.3,121.6 571.0,120.8 568.6,120.1 566.2,119.3 563.8,118.5 561.5,117.7 559.1,116.9 556.7,116.0 554.3,115.2 551.9,114.4 549.6,113.6 547.2,112.8 544.8,112.0 542.4,111.2 540.0,110.4 537.6,109.7 535.2,108.9 532.8,108.2 530.5,107.5 528.1,106.7 525.7,106.0 523.3,105.3 520.9,104.6 518.5,103.9 516.1,103.1 513.7,102.4 511.3,101.6 508.9,100.8 506.6,100.0 504.2,99.2 501.9,98.3 499.5,97.4 497.2,96.5 494.8,95.5 492.5,94.4 490.3,93.3 488.0,92.1 485.9,90.8 483.8,89.4 481.9,87.9 480.1,86.2 478.4,84.3 476.8,82.4 475.3,80.3 473.8,78.3 472.2,76.4 470.5,74.6 468.6,72.9 466.6,71.4 464.5,70.0 462.3,68.7 460.3,67.3 458.2,65.8 456.4,64.1 454.6,62.4 453.0,60.5 451.5,58.5 450.1,56.4 448.9,54.2 447.8,51.8 446.9,49.4 446.3,46.8 446.2,44.4Z M458.4,49.3 459.0,47.3 460.3,45.6 462.0,44.2 464.0,43.2 466.1,42.5 468.2,42.2 470.5,42.1 472.7,42.1 475.0,42.3 477.3,42.5 479.5,42.7 481.8,42.9 484.0,43.1 486.3,43.3 488.5,43.6 490.7,43.9 493.0,44.1 495.2,44.5 497.4,44.8 499.6,45.1 501.8,45.5 504.0,45.8 506.2,46.2 508.4,46.7 510.6,47.1 512.7,47.5 514.9,48.0 517.1,48.5 519.2,49.0 521.4,49.6 523.5,50.1 525.7,50.7 527.8,51.3 529.9,52.0 532.1,52.6 534.2,53.3 536.3,54.0 538.4,54.8 540.5,55.5 542.6,56.3 544.7,57.1 546.8,58.0 548.8,58.8 550.9,59.7 553.0,60.6 555.0,61.6 557.0,62.5 559.1,63.5 561.1,64.6 563.1,65.6 565.0,66.7 567.0,67.8 568.9,68.9 570.9,70.1 572.8,71.3 574.7,72.5 576.5,73.7 578.4,75.0 580.2,76.3 582.0,77.6 583.8,78.9 585.5,80.3 587.2,81.7 588.9,83.2 590.6,84.6 592.2,86.1 593.8,87.6 595.5,89.1 597.1,90.7 598.7,92.2 600.3,93.7 601.9,95.3 603.5,96.8 605.1,98.4 606.5,100.1 607.9,101.9 609.2,103.8 610.3,105.7 611.4,107.7 612.3,109.7 613.2,111.7 614.1,113.8 614.9,115.8 615.7,117.7 616.4,119.7 617.3,121.7 618.2,123.9 619.2,126.1 620.3,128.6 621.4,131.1 622.1,133.3 622.1,134.9 620.9,135.8 618.8,135.9 616.3,135.6 613.9,135.1 611.6,134.5 609.4,133.9 607.3,133.1 605.3,132.4 603.2,131.6 601.2,130.9 599.1,130.2 597.0,129.4 594.9,128.7 592.8,128.0 590.6,127.3 588.5,126.5 586.4,125.8 584.2,125.1 582.1,124.4 580.0,123.6 577.9,122.9 575.8,122.2 573.7,121.4 571.6,120.7 569.4,119.9 567.3,119.2 565.2,118.4 563.2,117.7 561.1,116.9 559.0,116.2 556.9,115.4 554.8,114.7 552.7,113.9 550.6,113.2 548.5,112.4 546.4,111.7 544.3,110.9 542.2,110.2 540.1,109.4 538.0,108.7 535.9,108.0 533.8,107.2 531.7,106.5 529.6,105.7 527.5,105.0 525.4,104.3 523.2,103.6 521.1,102.8 519.0,102.1 516.8,101.4 514.7,100.7 512.6,100.0 510.4,99.3 508.3,98.6 506.1,97.9 504.0,97.2 501.8,96.4 499.7,95.7 497.6,94.9 495.5,94.0 493.5,93.1 491.5,92.2 489.5,91.2 487.7,90.1 485.8,88.9 484.1,87.6 482.4,86.2 480.8,84.7 479.3,83.1 477.8,81.3 476.4,79.6 475.0,77.7 473.6,75.9 472.2,74.1 470.7,72.4 469.2,70.8 467.5,69.2 466.0,67.7 464.5,66.1 463.3,64.3 462.2,62.4 461.2,60.4 460.4,58.3 459.6,56.1 458.9,53.8 458.4,51.5 458.4,49.3Z M525.0,99.5 521.2,98.5 517.6,97.3 514.2,95.9 510.9,94.4 507.8,92.6 504.6,90.8 501.6,88.9 498.5,86.9 495.4,84.9 492.3,82.9 489.1,80.9 485.7,79.0 482.4,77.1 479.1,75.3 478.8,73.8 482.3,72.9 486.3,72.4 490.1,72.3 493.8,72.3 497.4,72.5 501.0,72.9 504.6,73.6 508.2,74.4 511.8,75.3 515.4,76.4 518.9,77.7 522.4,79.0 525.8,80.4 529.2,81.8 532.6,83.3 535.9,84.8 539.2,86.2 542.6,87.5 546.1,88.8 549.8,90.0 553.5,91.3 556.9,92.8 559.9,94.8 562.5,97.2 564.6,100.0 566.5,103.1 568.1,106.5 569.7,109.9 571.2,113.4 572.9,116.8 574.7,120.0 576.8,123.0 579.3,125.7 582.0,128.2 584.9,130.5 587.9,132.6 591.0,134.6 594.1,136.7 597.2,138.6 600.3,140.6 603.4,142.6 606.5,144.5 609.6,146.5 612.8,148.5 615.9,150.6 619.1,152.7 622.2,154.8 625.4,157.0 628.5,159.1 631.5,161.2 634.5,163.2 637.4,165.3 640.3,167.2 643.0,169.0 645.8,170.9 648.5,172.7 651.4,174.7 654.5,176.8 657.9,179.1 661.6,181.7 665.6,184.5 669.4,187.3 672.5,189.6 674.2,190.8 673.9,190.7 671.7,189.3 668.3,187.0 664.2,184.3 660.0,181.4 656.0,178.8 652.3,176.4 648.8,174.2 645.6,172.2 642.5,170.3 639.6,168.5 636.7,166.9 633.9,165.3 631.0,163.7 628.1,162.0 625.2,160.4 622.1,158.8 619.0,157.1 615.9,155.4 612.7,153.6 609.5,151.9 606.2,150.2 602.9,148.4 599.5,146.6 596.2,144.9 592.8,143.1 589.4,141.3 586.0,139.6 582.7,137.8 579.3,136.0 576.0,134.3 572.6,132.5 569.3,130.8 566.1,129.1 562.8,127.4 559.6,125.7 556.4,124.1 553.1,122.4 549.9,120.9 546.6,119.3 543.4,117.8 540.0,116.3 536.7,114.8 533.3,113.4 529.9,112.0 526.4,110.6 523.0,109.2 519.5,107.8 516.1,106.4 512.6,105.0 509.2,103.6 505.7,102.1 502.3,100.6 499.0,99.1 495.7,97.4 492.4,95.8 489.2,94.0 486.0,92.2 482.9,90.2 479.9,88.2 M545.0,106.0 542.0,104.5 539.1,103.1 536.2,101.7 533.3,100.3 530.5,98.9 527.7,97.5 524.9,96.0 522.2,94.4 519.6,92.6 517.0,90.8 514.5,88.7 512.0,86.5 509.7,84.1 507.5,81.5 505.5,78.9 504.0,76.5 504.9,74.8 508.0,74.0 511.6,73.7 515.0,74.0 518.1,74.7 521.0,75.6 523.9,76.4 527.0,77.3 530.1,78.3 533.2,79.3 536.3,80.5 539.3,81.7 542.3,83.0 545.2,84.4 548.0,86.0 550.7,87.8 553.3,89.7 555.6,91.8 557.7,94.1 559.7,96.6 561.6,99.2 563.3,101.9 565.0,104.7 566.7,107.5 568.4,110.2 570.1,112.9 572.0,115.5 574.0,117.9 576.2,120.2 578.6,122.2 581.1,124.2 583.7,126.0 586.5,127.7 589.3,129.4 592.1,131.1 595.0,132.8 597.9,134.5 600.7,136.2 603.5,137.9 606.3,139.6 609.1,141.3 611.7,143.0 614.3,144.6 616.8,146.2 619.3,147.8 621.6,149.4 623.9,151.0 626.2,152.6 628.6,154.3 631.0,156.0 633.6,157.9 636.3,159.8 639.2,161.9 642.4,164.2 645.9,166.6 649.5,169.2 653.3,171.8 656.8,174.3 659.8,176.4 662.2,178.1 663.6,179.2 663.9,179.5 662.9,179.0 660.8,177.7 657.8,175.9 654.4,173.7 650.9,171.6 647.5,169.5 644.3,167.6 641.2,165.8 638.3,164.2 635.5,162.6 632.7,161.1 630.1,159.7 627.4,158.3 624.8,156.9 622.2,155.5 619.5,154.0 616.8,152.6 614.1,151.1 611.4,149.6 608.6,148.1 605.9,146.6 603.1,145.1 600.3,143.6 597.5,142.1 594.6,140.6 591.8,139.0 588.9,137.5 586.1,136.0 583.2,134.5 580.3,132.9 577.4,131.4 574.5,129.9 571.6,128.4 568.7,127.0 565.8,125.5 562.9,124.0 560.0,122.6 557.1,121.2 554.2,119.8 551.3,118.4 548.3,117.0 545.4,115.7 542.5,114.4 539.6,113.1 536.7,111.8 533.8,110.5 530.9,109.2 528.0,108.0 525.1,106.7 522.2,105.4 519.3,104.2 516.4,102.9 513.5,101.6 510.5,100.4 507.6,99.1 504.7,97.8 501.8,96.5 498.8,95.1 495.9,93.8 492.9,92.4 489.9,91.0 M505.0,93.0 502.7,91.5 500.3,89.9 497.7,88.1 495.2,86.3 492.6,84.4 490.0,82.5 487.5,80.6 485.0,78.6 482.7,76.8 482.7,75.4 485.4,74.5 488.6,74.0 491.8,73.7 495.0,73.6 498.0,73.8 501.0,74.2 503.9,74.8 506.8,75.4 509.7,76.0 512.7,76.7 515.6,77.5 518.6,78.4 521.5,79.3 524.4,80.2 527.3,81.3 530.1,82.4 533.0,83.5 535.8,84.8 538.5,86.1 541.2,87.5 543.9,89.0 546.5,90.6 549.0,92.2 551.5,94.0 553.9,95.8 556.2,97.7 558.4,99.7 560.6,101.8 562.7,103.9 564.8,106.1 566.9,108.3 569.0,110.5 571.1,112.8 573.2,114.9 575.4,117.1 577.6,119.2 579.9,121.2 582.3,123.1 584.8,125.0 587.4,126.8 589.9,128.5 592.5,130.2 595.0,131.8 597.6,133.4 600.0,134.9 602.3,136.4 604.6,137.9 606.8,139.4 609.1,140.9 611.3,142.5 613.7,144.0 616.1,145.7 618.6,147.4 621.2,149.2 624.1,151.1 627.1,153.1 630.4,155.2 633.9,157.5 637.5,159.9 641.2,162.2 644.8,164.5 648.2,166.7 651.3,168.7 654.0,170.4 656.2,171.8 657.8,172.8 658.7,173.3 658.7,173.3 657.8,172.8 656.2,171.7 653.8,170.2 651.0,168.5 647.8,166.6 644.5,164.5 641.1,162.5 637.8,160.7 634.7,159.0 631.7,157.4 628.9,155.9 626.1,154.5 623.4,153.2 620.8,152.0 618.2,150.8 615.7,149.7 613.2,148.6 610.6,147.4 608.0,146.3 605.4,145.1 602.8,143.9 600.1,142.7 597.4,141.4 594.6,140.2 591.9,138.9 589.1,137.6 586.3,136.4 583.5,135.1 580.7,133.7 577.8,132.4 575.0,131.1 572.2,129.8 569.4,128.5 566.6,127.2 563.8,125.9 561.0,124.6 558.2,123.4 555.5,122.1 552.7,120.9 550.0,119.6 547.3,118.4 544.6,117.2 541.8,115.9 539.1,114.7 536.4,113.5 533.6,112.3 530.8,111.1 528.0,109.9 525.2,108.7 522.4,107.5 519.6,106.3 516.8,105.0 514.0,103.8 511.2,102.6 508.4,101.3 505.6,100.0 502.9,98.8 500.1,97.5 497.4,96.2 494.7,94.8 492.0,93.5 M466.1,77.5 468.0,77.7 470.0,77.8 472.0,78.0 474.1,78.1 476.1,78.3 478.2,78.4 480.2,78.6 482.3,78.8 484.4,78.9 486.4,79.1 488.5,79.3 490.6,79.5 492.7,79.8 494.8,80.0 496.8,80.3 498.9,80.6 501.0,80.9 503.0,81.2 505.1,81.6 507.1,81.9 509.2,82.4 511.2,82.8 513.2,83.3 515.2,83.8 517.2,84.3 519.1,84.9 521.1,85.5 523.0,86.1 525.0,86.7 526.9,87.4 528.8,88.1 530.7,88.8 532.6,89.6 534.5,90.3 536.3,91.1 538.2,91.9 540.1,92.8 541.9,93.6 543.8,94.5 545.6,95.4 547.5,96.3 549.3,97.2 551.1,98.1 552.9,99.1 554.7,100.1 556.6,101.0 558.4,102.0 560.2,103.0 562.0,104.0 563.8,105.1 565.6,106.1 567.4,107.1 569.2,108.2 571.0,109.2 572.8,110.3 574.6,111.4 576.4,112.5 578.2,113.5 580.0,114.6 581.8,115.7 583.6,116.8 585.3,117.9 587.1,119.0 588.9,120.1 590.7,121.2 592.4,122.3 594.2,123.4 596.0,124.5 597.7,125.6 599.5,126.8 601.2,127.9 602.9,129.0 604.6,130.1 606.3,131.2 608.0,132.3 609.7,133.4 611.4,134.5 613.1,135.6 614.7,136.7 616.4,137.8 618.0,138.9 619.6,140.0 621.2,141.1 622.8,142.2 624.4,143.3 626.0,144.4 627.6,145.5 629.1,146.6 630.7,147.8 632.3,149.0 634.0,150.3 635.6,151.6 637.3,152.9 638.9,154.4 640.6,155.8 642.4,157.4 644.1,159.0 646.0,160.8 647.8,162.6 649.6,164.4 651.5,166.3 653.3,168.3 655.1,170.2 656.9,172.1 658.5,174.0 660.1,175.8 661.6,177.5 662.9,179.1 664.1,180.6 665.1,182.0 666.0,183.2 666.7,184.3 667.1,185.1 667.3,185.7 667.3,186.1 667.0,186.3 666.4,186.1 665.6,185.7 664.4,184.9 662.8,183.8 661.0,182.4 658.7,180.5 656.1,178.3 653.0,175.7 649.6,172.6 645.7,169.1 641.5,165.4 637.3,161.5 633.1,157.7 629.0,154.1 625.3,150.9 622.0,148.2 619.4,146.2 617.6,145.1 616.6,145.0 616.7,146.1 618.1,148.5 620.8,152.4 625.0,158.0 M477.9,85.1 479.2,85.0 480.5,84.9 481.8,84.8 483.0,84.8 484.3,84.8 485.6,84.8 486.8,84.8 488.1,84.8 489.3,84.8 490.6,84.9 491.8,84.9 493.0,85.0 494.3,85.1 495.5,85.2 496.7,85.3 498.0,85.5 499.2,85.6 500.4,85.8 501.6,85.9 502.9,86.1 504.1,86.3 505.3,86.5 506.5,86.8 507.7,87.0 508.9,87.3 510.1,87.5 511.3,87.8 512.5,88.1 513.7,88.4 514.9,88.7 516.1,89.0 517.3,89.3 518.4,89.6 519.6,90.0 520.8,90.3 522.0,90.7 523.2,91.1 524.3,91.4 525.5,91.8 526.7,92.2 527.8,92.6 529.0,93.0 530.2,93.5 531.3,93.9 532.5,94.3 533.6,94.8 534.8,95.2 535.9,95.7 537.1,96.1 538.2,96.6 539.4,97.1 540.5,97.5 541.7,98.0 542.8,98.5 543.9,99.0 545.1,99.5 546.2,100.0 547.3,100.5 548.5,101.0 549.6,101.5 550.7,102.0 551.9,102.6 553.0,103.1 554.1,103.6 555.2,104.1 556.4,104.7 557.5,105.2 558.6,105.7 559.7,106.3 560.8,106.8 562.0,107.4 563.1,107.9 564.2,108.4 565.3,109.0 566.4,109.5 567.5,110.1 568.6,110.6 569.7,111.2 570.8,111.8 571.9,112.3 573.0,112.9 574.1,113.5 575.2,114.0 576.3,114.6 577.4,115.2 578.5,115.7 579.6,116.3 580.7,116.9 581.8,117.5 582.9,118.1 584.0,118.7 585.1,119.2 586.2,119.8 587.3,120.4 588.3,121.0 589.4,121.6 590.5,122.2 591.6,122.8 592.7,123.4 593.8,124.0 594.8,124.6 595.9,125.2 597.0,125.8 598.1,126.4 599.1,127.1 600.2,127.7 601.3,128.3 602.4,128.9 603.4,129.5 604.5,130.1 605.6,130.8 606.6,131.4 607.7,132.0 608.8,132.7 609.8,133.3 610.9,133.9 611.9,134.6 613.0,135.2 614.1,135.8 615.1,136.5 616.2,137.1 617.2,137.7 618.3,138.4 619.4,139.0 620.4,139.7 621.5,140.3 622.5,141.0 623.6,141.6 624.6,142.3 625.7,142.9 626.7,143.6 627.7,144.3 628.8,144.9 629.8,145.6 630.9,146.2 631.9,146.9 633.0,147.6 634.0,148.2 635.0,148.9 M487.9,82.1 488.8,82.1 489.8,82.1 490.7,82.1 491.6,82.2 492.5,82.2 493.5,82.3 494.4,82.3 495.3,82.4 496.2,82.5 497.1,82.5 498.0,82.6 498.9,82.7 499.8,82.9 500.7,83.0 501.6,83.1 502.5,83.2 503.4,83.4 504.3,83.5 505.2,83.7 506.0,83.9 506.9,84.0 507.8,84.2 508.7,84.4 509.5,84.6 510.4,84.8 511.3,85.0 512.1,85.2 513.0,85.5 513.8,85.7 514.7,85.9 515.6,86.2 516.4,86.4 517.2,86.7 518.1,87.0 518.9,87.2 519.8,87.5 520.6,87.8 521.4,88.1 522.3,88.4 523.1,88.7 523.9,89.0 524.8,89.3 525.6,89.6 526.4,90.0 527.2,90.3 528.1,90.6 528.9,91.0 529.7,91.3 530.5,91.7 531.3,92.0 532.1,92.4 532.9,92.8 533.7,93.1 534.5,93.5 535.3,93.9 536.1,94.3 536.9,94.7 537.7,95.1 538.5,95.5 539.3,95.9 540.1,96.3 540.9,96.7 541.7,97.1 542.5,97.5 543.3,98.0 544.0,98.4 544.8,98.8 545.6,99.3 546.4,99.7 547.2,100.1 547.9,100.6 548.7,101.0 549.5,101.5 550.3,101.9 551.0,102.4 551.8,102.8 552.6,103.3 553.3,103.8 554.1,104.2 554.9,104.7 555.6,105.2 556.4,105.6 557.2,106.1 557.9,106.6 558.7,107.1 559.4,107.5 560.2,108.0 561.0,108.5 561.7,109.0 562.5,109.5 563.2,109.9 564.0,110.4 564.7,110.9 565.5,111.4 566.3,111.9 567.0,112.4 567.8,112.9 568.5,113.3 569.3,113.8 570.0,114.3 570.8,114.8 571.5,115.3 572.3,115.8 573.1,116.3 573.8,116.7 574.6,117.2 575.3,117.7 576.1,118.2 576.8,118.7 577.6,119.2 578.3,119.6 579.1,120.1 579.9,120.6 580.6,121.1 581.4,121.5 582.1,122.0 582.9,122.5 583.7,122.9 584.4,123.4 585.2,123.9 585.9,124.3 586.7,124.8 587.5,125.3 588.2,125.7 589.0,126.2 589.8,126.6 590.6,127.0 591.3,127.5 592.1,127.9 592.9,128.4 593.6,128.8 594.4,129.2 595.2,129.6 596.0,130.1 596.8,130.5 597.5,130.9 598.3,131.3 599.1,131.7 599.9,132.1 M465.1,70.4 467.3,72.4 469.7,74.3 472.1,76.0 474.6,77.6 477.1,79.1 479.7,80.5 482.3,81.8 485.0,83.0 487.7,84.2 490.4,85.3 493.1,86.4 495.9,87.4 498.7,88.4 501.5,89.4 504.3,90.3 507.0,91.3 509.8,92.3 512.6,93.4 515.4,94.4 518.1,95.5 520.8,96.6 523.6,97.8 526.3,98.9 529.0,100.1 531.7,101.3 534.4,102.6 537.1,103.8 539.8,105.1 542.4,106.3 545.1,107.6 547.8,108.9 550.4,110.2 553.1,111.5 555.7,112.8 558.4,114.1 561.0,115.4 563.7,116.8 566.3,118.1 568.9,119.4 571.6,120.7 574.2,122.0 576.8,123.3 579.5,124.6 582.1,125.9 584.7,127.2 587.4,128.4 590.0,129.7 592.6,131.0 595.3,132.2 597.9,133.5 600.5,134.8 603.2,136.1 605.8,137.4 608.4,138.7 611.0,140.0 613.6,141.4 616.3,142.7 618.9,144.1 621.5,145.6 624.1,147.0 626.6,148.5 629.2,150.0 631.8,151.6 634.4,153.2 636.9,154.8 639.5,156.5 642.0,158.3 644.5,160.1 647.0,161.9 649.4,163.8 651.7,165.7 653.9,167.6 655.9,169.6 657.4,171.4 657.5,171.9 656.0,171.0 653.9,169.6 651.7,168.0 649.3,166.3 646.9,164.5 644.3,162.7 641.7,160.8 639.1,159.0 636.5,157.3 633.9,155.6 631.3,154.0 628.7,152.4 626.1,150.9 623.5,149.3 620.9,147.9 618.3,146.5 615.7,145.1 613.1,143.7 610.4,142.4 607.8,141.0 605.2,139.7 602.6,138.5 600.0,137.2 597.4,135.9 594.7,134.7 592.1,133.4 589.5,132.2 586.9,130.9 584.3,129.6 581.6,128.4 579.0,127.1 576.4,125.8 573.8,124.5 571.2,123.2 568.5,121.8 565.9,120.5 563.3,119.2 560.7,117.8 558.0,116.5 555.4,115.1 552.8,113.8 550.1,112.4 547.5,111.1 544.8,109.8 542.2,108.5 539.5,107.2 536.8,105.9 534.1,104.6 531.5,103.3 528.8,102.1 526.1,100.9 523.4,99.7 520.6,98.5 517.9,97.3 515.2,96.2 512.4,95.1 509.7,94.0 506.9,93.0 504.1,92.0 501.4,91.0 498.6,90.0 495.8,88.9 493.1,87.9 490.3,86.8 487.6,85.7 485.0,84.5 482.3,83.2 479.7,81.9 477.2,80.4 474.6,78.9 472.2,77.3 469.8,75.5 467.5,73.6 465.2,71.6 M465.4,73.5 467.6,75.6 469.8,77.5 472.1,79.2 474.5,80.9 476.9,82.5 479.4,83.9 481.9,85.3 484.5,86.6 487.1,87.9 489.7,89.1 492.3,90.2 495.0,91.3 497.7,92.4 500.4,93.5 503.1,94.5 505.8,95.6 508.5,96.6 511.2,97.7 513.9,98.8 516.5,100.0 519.2,101.1 521.8,102.3 524.4,103.5 527.0,104.8 529.6,106.0 532.2,107.3 534.8,108.5 537.4,109.8 540.0,111.1 542.5,112.4 545.1,113.7 547.7,115.1 550.2,116.4 552.8,117.7 555.3,119.1 557.9,120.4 560.4,121.8 563.0,123.1 565.5,124.5 568.1,125.8 570.6,127.2 573.2,128.5 575.7,129.9 578.3,131.2 580.9,132.5 583.5,133.8 586.0,135.1 588.6,136.4 591.2,137.7 593.8,139.0 596.4,140.3 599.0,141.6 601.6,142.9 604.2,144.2 606.7,145.5 609.3,146.8 611.9,148.1 614.5,149.4 617.0,150.7 619.6,152.1 622.1,153.4 624.6,154.8 627.1,156.2 629.6,157.6 632.1,159.0 634.6,160.5 637.1,161.9 639.5,163.4 641.9,164.9 644.3,166.5 646.8,168.1 649.3,169.7 652.0,171.3 654.7,173.0 657.6,174.8 660.1,176.2 661.8,177.1 661.9,176.9 660.5,175.7 658.1,173.9 655.4,171.8 652.6,169.9 650.0,168.0 647.5,166.3 645.1,164.7 642.7,163.1 640.3,161.6 637.9,160.1 635.5,158.7 633.1,157.2 630.6,155.8 628.1,154.3 625.6,152.9 623.1,151.5 620.6,150.1 618.1,148.8 615.6,147.4 613.0,146.1 610.5,144.7 607.9,143.4 605.3,142.1 602.8,140.7 600.2,139.4 597.6,138.1 595.0,136.8 592.4,135.5 589.8,134.2 587.2,132.9 584.6,131.6 582.0,130.3 579.4,129.1 576.8,127.8 574.2,126.5 571.6,125.2 569.1,123.9 566.5,122.6 563.9,121.3 561.3,120.0 558.7,118.7 556.1,117.4 553.6,116.1 551.0,114.8 548.4,113.6 545.8,112.3 543.2,111.0 540.6,109.8 538.1,108.5 535.5,107.2 532.9,106.0 530.3,104.7 527.7,103.5 525.1,102.3 522.5,101.1 519.8,99.9 517.2,98.7 514.6,97.5 512.0,96.3 509.3,95.1 506.7,93.9 504.1,92.8 501.4,91.6 498.8,90.5 496.1,89.4 493.4,88.3 490.7,87.2 488.0,86.1 485.3,85.0 482.6,84.0 479.9,82.9 M449.4,61.7 451.6,64.0 453.8,66.2 456.1,68.4 458.5,70.4 460.8,72.4 463.3,74.4 465.7,76.2 468.2,78.1 470.7,79.8 473.3,81.5 475.9,83.2 478.5,84.8 481.2,86.4 483.9,87.9 486.6,89.4 489.3,90.9 492.0,92.3 494.8,93.7 497.6,95.0 500.3,96.4 503.2,97.7 506.0,99.0 508.8,100.3 511.6,101.6 514.4,102.9 517.3,104.2 520.1,105.5 523.0,106.7 525.8,108.0 528.6,109.3 531.4,110.6 534.3,111.9 537.1,113.2 539.9,114.6 542.6,116.0 545.4,117.4 548.2,118.8 550.9,120.2 553.6,121.6 556.4,123.1 559.1,124.6 561.8,126.1 564.5,127.6 567.2,129.1 569.9,130.6 572.6,132.1 575.3,133.6 578.0,135.1 580.7,136.7 583.4,138.2 586.1,139.7 588.8,141.2 591.5,142.7 594.2,144.2 596.9,145.7 599.6,147.2 602.4,148.7 605.1,150.1 607.9,151.6 610.6,153.0 613.4,154.4 616.2,155.8 619.0,157.2 621.8,158.5 624.7,159.9 627.5,161.2 630.3,162.5 633.1,163.8 635.8,165.2 638.4,166.6 641.0,168.0 643.5,169.5 646.1,171.0 648.8,172.6 651.7,174.4 654.9,176.2 658.4,178.1 661.8,179.9 664.8,181.5 666.8,182.6 667.4,183.1 666.3,182.8 663.8,181.8 660.5,180.5 656.9,178.9 653.5,177.2 650.3,175.6 647.5,174.1 644.8,172.6 642.2,171.1 639.6,169.7 636.9,168.4 634.2,167.0 631.5,165.7 628.7,164.4 625.8,163.2 623.0,161.9 620.2,160.5 617.4,159.2 614.6,157.8 611.8,156.5 609.0,155.0 606.2,153.6 603.5,152.2 600.8,150.7 598.0,149.2 595.3,147.7 592.6,146.2 589.9,144.7 587.2,143.1 584.5,141.6 581.8,140.1 579.1,138.5 576.5,137.0 573.8,135.4 571.1,133.9 568.4,132.3 565.7,130.8 563.0,129.2 560.3,127.7 557.6,126.2 554.9,124.7 552.2,123.2 549.5,121.7 546.8,120.3 544.0,118.8 541.3,117.4 538.5,116.0 535.7,114.7 532.9,113.3 530.2,112.0 527.3,110.7 524.5,109.3 521.7,108.0 518.9,106.7 516.1,105.4 513.3,104.1 510.5,102.8 507.6,101.5 504.8,100.2 502.0,98.9 499.2,97.6 496.4,96.2 493.7,94.8 490.9,93.4 488.2,92.0 485.4,90.5 482.7,89.0 480.0,87.5 M480.0,89.7 482.5,91.5 485.1,93.2 487.7,94.8 490.4,96.4 493.0,97.9 495.7,99.3 498.5,100.7 501.2,102.1 504.0,103.4 506.8,104.6 509.6,105.9 512.5,107.1 515.3,108.4 518.1,109.6 520.9,110.8 523.7,112.0 526.6,113.3 529.3,114.6 532.1,115.9 534.9,117.2 537.6,118.6 540.3,120.0 543.0,121.5 545.7,123.0 548.3,124.5 550.9,126.1 553.5,127.8 556.1,129.4 558.7,131.1 561.3,132.7 563.8,134.4 566.4,136.1 569.0,137.7 571.6,139.3 574.2,141.0 576.9,142.6 579.6,144.1 582.2,145.6 585.0,147.1 587.7,148.5 590.5,149.9 593.2,151.3 596.0,152.7 598.8,154.0 601.6,155.4 604.4,156.7 607.2,158.0 609.9,159.4 612.7,160.7 615.4,162.1 618.1,163.4 620.8,164.8 623.5,166.2 626.1,167.7 628.7,169.1 631.4,170.5 634.0,171.8 636.7,173.1 639.5,174.4 642.2,175.6 645.1,176.7 648.1,177.9 651.2,179.2 654.5,180.6 657.9,182.2 661.5,184.0 664.9,185.7 668.0,187.4 670.7,188.8 672.7,189.9 673.8,190.5 673.8,190.5 672.9,189.8 671.0,188.7 668.5,187.2 665.5,185.4 662.2,183.4 658.7,181.4 655.3,179.5 652.1,177.8 649.2,176.2 646.3,174.7 643.5,173.4 640.8,172.1 638.1,170.8 635.3,169.6 632.6,168.4 629.8,167.1 627.0,165.9 624.2,164.7 621.4,163.4 618.7,162.2 615.9,160.8 613.2,159.5 610.5,158.1 607.7,156.7 605.0,155.3 602.3,153.8 599.7,152.3 597.0,150.8 594.3,149.3 591.7,147.8 589.0,146.3 586.3,144.7 583.7,143.2 581.1,141.6 578.4,140.0 575.8,138.5 573.1,136.9 570.5,135.3 567.8,133.8 565.2,132.2 562.5,130.7 559.8,129.1 557.2,127.6 554.5,126.1 551.8,124.6 549.1,123.1 546.4,121.7 543.7,120.2 540.9,118.8 538.2,117.5 535.4,116.1 532.7,114.8 529.9,113.5 527.1,112.2 524.3,110.9 521.5,109.6 518.7,108.3 515.9,107.0 513.1,105.8 510.4,104.5 507.6,103.2 504.8,101.8 502.1,100.5 499.3,99.2 496.6,97.8 493.9,96.4 491.2,94.9 488.5,93.4 485.9,91.9 483.3,90.3 480.7,88.7 478.1,87.0 475.6,85.3 473.1,83.5 470.6,81.6 468.2,79.7 465.8,77.7 M465.9,77.3 468.1,79.6 470.5,81.7 473.0,83.7 475.5,85.6 478.1,87.4 480.7,89.0 483.4,90.6 486.2,92.1 489.0,93.6 491.8,94.9 494.6,96.3 497.5,97.6 500.4,98.9 503.3,100.1 506.1,101.4 509.0,102.7 511.9,104.0 514.8,105.3 517.6,106.7 520.4,108.0 523.2,109.4 526.0,110.8 528.8,112.3 531.6,113.7 534.4,115.2 537.1,116.7 539.9,118.2 542.7,119.7 545.4,121.2 548.1,122.7 550.9,124.3 553.6,125.8 556.3,127.3 559.1,128.9 561.8,130.4 564.5,132.0 567.3,133.5 570.0,135.1 572.7,136.6 575.5,138.2 578.2,139.7 581.0,141.2 583.7,142.7 586.5,144.2 589.3,145.7 592.1,147.2 594.8,148.7 597.6,150.1 600.4,151.6 603.2,153.0 606.0,154.5 608.8,155.9 611.6,157.4 614.4,158.8 617.2,160.2 620.0,161.6 622.7,163.0 625.5,164.4 628.3,165.7 631.1,167.1 633.9,168.5 636.7,169.9 639.4,171.2 642.2,172.6 645.0,173.9 647.9,175.4 651.0,176.9 654.2,178.5 657.6,180.2 661.2,182.1 664.6,183.8 667.5,185.4 669.8,186.7 671.0,187.5 671.1,187.7 669.8,187.2 667.6,186.3 664.6,185.1 661.1,183.7 657.5,182.2 653.9,180.7 650.5,179.4 647.3,178.2 644.2,177.0 641.3,175.8 638.4,174.6 635.6,173.3 632.9,171.9 630.2,170.5 627.5,169.1 624.8,167.6 622.1,166.1 619.4,164.7 616.6,163.3 613.9,161.9 611.1,160.5 608.2,159.2 605.4,157.8 602.5,156.4 599.7,155.1 596.8,153.7 594.0,152.3 591.1,150.9 588.3,149.5 585.5,148.0 582.7,146.5 579.9,145.0 577.2,143.4 574.5,141.7 571.8,140.1 569.1,138.4 566.5,136.7 563.9,135.0 561.2,133.3 558.6,131.5 555.9,129.8 553.3,128.1 550.7,126.5 548.0,124.8 545.3,123.3 542.6,121.7 539.8,120.2 537.0,118.8 534.2,117.4 531.4,116.0 528.6,114.7 525.7,113.4 522.8,112.2 519.9,110.9 517.0,109.6 514.1,108.4 511.3,107.1 508.4,105.8 505.5,104.4 502.7,103.0 499.9,101.6 497.1,100.2 494.3,98.7 491.6,97.2 488.8,95.6 486.2,94.0 483.5,92.3 480.9,90.6 478.3,88.8 475.7,87.0 473.2,85.1 470.8,83.1 468.4,81.1 466.0,79.0 M520.0,97.0 522.2,97.7 524.4,98.5 526.6,99.2 528.8,99.9 531.0,100.6 533.2,101.4 535.3,102.1 537.5,102.8 539.7,103.6 541.9,104.3 544.1,105.0 546.3,105.8 548.5,106.5 550.6,107.2 552.8,108.0 555.0,108.7 557.2,109.4 559.4,110.1 561.6,110.9 563.8,111.6 566.0,112.3 568.2,113.1 570.4,113.8 572.6,114.5 574.8,115.3 577.0,116.0 579.2,116.7 581.4,117.4 583.6,118.2 585.8,118.9 588.0,119.6 590.2,120.3 592.4,121.1 594.6,121.8 596.8,122.5 599.0,123.3 601.1,124.0 603.3,124.7 605.4,125.5 607.5,126.2 609.6,126.9 611.7,127.7 613.7,128.4 615.8,129.2 617.9,129.9 620.0,130.6 622.2,131.3 624.4,131.9 626.8,132.6 629.2,133.2 631.8,133.8 634.5,134.3 637.3,134.8 640.2,135.2 643.1,135.6 645.9,135.9 648.4,136.3 650.5,136.5 652.2,136.7 653.2,136.9 653.6,137.0 653.2,137.1 652.1,137.2 650.5,137.2 648.3,137.2 645.8,137.1 643.0,136.9 640.0,136.7 636.9,136.5 633.9,136.2 631.0,135.8 628.2,135.3 625.6,134.8 623.2,134.3 620.8,133.7 618.6,133.1 616.4,132.4 614.3,131.8 612.2,131.1 610.2,130.4 608.1,129.7 606.1,129.0 604.1,128.3 602.0,127.6 599.8,126.9 597.7,126.2 595.5,125.6 593.3,124.9 591.1,124.3 588.9,123.6 586.7,123.0 584.5,122.3 582.2,121.6 580.0,121.0 577.7,120.3 575.5,119.6 573.3,118.9 571.0,118.2 568.8,117.5 566.6,116.8 564.4,116.1 562.2,115.4 560.0,114.6 557.8,113.9 555.7,113.1 553.5,112.4 551.3,111.7 549.1,110.9 546.9,110.2 544.7,109.4 542.6,108.7 540.4,107.9 538.2,107.2 536.0,106.5 533.8,105.8 531.6,105.1 529.4,104.4 527.2,103.7 525.0,103.0 M530.0,101.0 532.0,101.8 533.9,102.5 535.9,103.2 537.9,104.0 539.8,104.7 541.8,105.4 543.8,106.2 545.8,106.9 547.7,107.6 549.7,108.3 551.7,109.0 553.6,109.7 555.6,110.4 557.6,111.1 559.6,111.8 561.6,112.5 563.5,113.2 565.5,113.9 567.5,114.6 569.5,115.3 571.5,116.0 573.4,116.7 575.4,117.4 577.4,118.1 579.4,118.8 581.4,119.5 583.4,120.2 585.4,120.9 587.4,121.6 589.4,122.3 591.3,123.0 593.3,123.7 595.3,124.4 597.3,125.1 599.3,125.8 601.3,126.5 603.3,127.2 605.3,127.9 607.2,128.6 609.2,129.3 611.2,130.0 613.1,130.6 615.1,131.3 617.0,132.0 618.9,132.6 620.8,133.3 622.7,133.9 624.6,134.6 626.6,135.2 628.5,135.9 630.5,136.6 632.6,137.3 634.7,138.1 636.9,138.9 639.2,139.7 641.6,140.6 644.1,141.5 646.4,142.4 648.6,143.2 650.3,144.0 651.6,144.6 652.3,145.0 652.1,145.2 651.3,145.2 649.8,145.1 647.9,144.7 645.6,144.3 643.1,143.7 640.4,143.1 637.7,142.4 635.1,141.8 632.6,141.1 630.3,140.5 628.1,139.8 626.0,139.2 623.9,138.5 622.0,137.9 620.1,137.3 618.2,136.7 616.4,136.0 614.6,135.4 612.7,134.8 610.9,134.1 609.0,133.5 607.1,132.8 605.1,132.2 603.2,131.5 601.2,130.9 599.2,130.2 597.2,129.6 595.2,128.9 593.1,128.2 591.1,127.5 589.1,126.9 587.1,126.2 585.1,125.5 583.0,124.8 581.0,124.1 579.0,123.5 577.0,122.8 575.0,122.1 573.1,121.4 571.1,120.7 569.1,119.9 567.1,119.2 565.2,118.5 563.2,117.7 561.3,117.0 559.3,116.2 557.4,115.5 555.4,114.7 553.5,113.9 551.6,113.1 549.6,112.3 547.7,111.5 545.8,110.6 543.8,109.8 541.9,108.9 540.0,108.0 M540.0,104.0 541.4,104.6 542.9,105.1 544.4,105.7 545.8,106.3 547.3,106.8 548.8,107.4 550.2,108.0 551.7,108.5 553.2,109.1 554.7,109.7 556.2,110.3 557.7,110.8 559.2,111.4 560.7,112.0 562.2,112.5 563.7,113.1 565.2,113.7 566.8,114.3 568.3,114.8 569.8,115.4 571.3,116.0 572.8,116.6 574.3,117.1 575.8,117.7 577.3,118.3 578.8,118.9 580.3,119.4 581.8,120.0 583.3,120.6 584.8,121.1 586.3,121.7 587.8,122.3 589.2,122.8 590.7,123.4 592.2,124.0 593.6,124.5 595.1,125.1 596.5,125.6 598.0,126.2 599.4,126.7 600.8,127.3 602.2,127.8 603.6,128.4 605.1,129.0 606.5,129.5 607.9,130.1 609.4,130.8 610.8,131.4 612.3,132.1 613.9,132.8 615.4,133.6 617.0,134.4 618.6,135.3 620.3,136.2 622.0,137.1 623.7,138.1 625.4,139.1 626.9,140.1 628.3,141.0 629.5,141.8 630.4,142.5 630.9,143.0 631.1,143.3 630.9,143.4 630.3,143.3 629.3,143.1 628.1,142.7 626.6,142.1 625.0,141.5 623.2,140.8 621.2,140.1 619.3,139.3 617.3,138.5 615.3,137.7 613.5,136.9 611.7,136.2 609.9,135.5 608.2,134.9 606.6,134.2 605.1,133.6 603.6,133.1 602.1,132.5 600.6,132.0 599.2,131.4 597.8,130.9 596.5,130.4 595.1,129.9 593.7,129.4 592.4,128.9 591.0,128.4 589.6,127.8 588.2,127.3 586.8,126.8 585.4,126.2 583.9,125.7 582.5,125.2 581.0,124.6 579.5,124.0 578.0,123.5 576.5,122.9 575.0,122.3 573.5,121.8 572.0,121.2 570.5,120.6 569.0,120.0 567.4,119.4 565.9,118.9 564.4,118.3 562.9,117.7 561.3,117.1 559.8,116.5 558.3,115.9 556.8,115.4 555.3,114.8 553.8,114.2 552.4,113.7 550.9,113.1 549.4,112.5 548.0,112.0 M510.0,95.0 512.0,95.7 514.1,96.3 516.1,97.0 518.2,97.6 520.2,98.3 522.3,98.9 524.3,99.5 526.3,100.2 528.4,100.8 530.4,101.5 532.5,102.1 534.5,102.8 536.5,103.4 538.6,104.0 540.6,104.7 542.6,105.3 544.7,106.0 546.7,106.6 548.7,107.3 550.8,107.9 552.8,108.6 554.9,109.3 556.9,109.9 558.9,110.6 561.0,111.3 563.0,111.9 565.0,112.6 567.1,113.3 569.1,114.0 571.1,114.7 573.2,115.4 575.2,116.1 577.3,116.8 579.3,117.5 581.3,118.2 583.4,118.9 585.4,119.7 587.4,120.4 589.4,121.1 591.5,121.8 593.5,122.6 595.5,123.3 597.5,124.0 599.5,124.7 601.5,125.4 603.4,126.2 605.4,126.9 607.3,127.6 609.3,128.3 611.2,129.0 613.1,129.6 615.1,130.3 617.1,131.0 619.1,131.7 621.1,132.4 623.2,133.2 625.4,133.9 627.7,134.7 630.1,135.5 632.6,136.3 635.2,137.2 637.6,138.0 639.7,138.8 641.5,139.4 642.7,140.0 643.3,140.3 643.1,140.5 642.2,140.4 640.7,140.2 638.8,139.9 636.4,139.4 633.8,138.8 631.0,138.2 628.2,137.5 625.5,136.9 622.9,136.2 620.4,135.5 618.1,134.8 615.9,134.1 613.7,133.4 611.7,132.8 609.7,132.1 607.8,131.4 605.9,130.7 604.0,130.0 602.2,129.3 600.4,128.7 598.6,128.0 596.8,127.3 594.9,126.6 593.0,125.9 591.1,125.3 589.1,124.6 587.2,123.9 585.2,123.2 583.1,122.5 581.1,121.9 579.0,121.2 577.0,120.5 574.9,119.9 572.8,119.2 570.7,118.5 568.6,117.8 566.5,117.2 564.4,116.5 562.3,115.8 560.2,115.1 558.1,114.5 556.0,113.8 553.9,113.1 551.8,112.4 549.8,111.8 547.8,111.1 545.7,110.4 543.7,109.7 541.8,109.0 539.8,108.4 537.9,107.7 536.0,107.0" fill="none" stroke="#ff00ff" stroke-width="1.25" stroke-linejoin="round"/>
</svg>
</body></html>
